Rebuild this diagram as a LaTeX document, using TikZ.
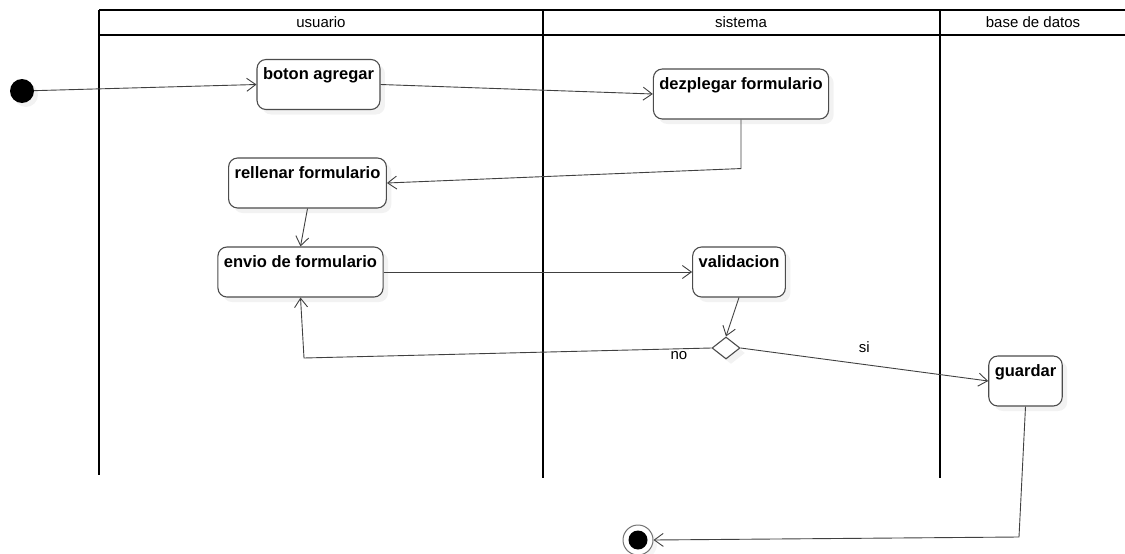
\documentclass[tikz,border=0pt]{standalone}
\usepackage{fontspec}
\setmainfont{Liberation Sans}
\usetikzlibrary{arrows.meta,positioning,shapes.geometric,shadows}

\begin{document}
\begin{tikzpicture}[
  x=1pt,y=-1pt,
  act/.style={draw=black!70,line width=1.1pt,rounded corners=9pt,fill=white,
    inner xsep=6pt,inner ysep=7pt,text height=13pt,text depth=23pt,
    font=\fontsize{16.5}{18}\selectfont\bfseries,
    drop shadow={shadow xshift=5pt,shadow yshift=-5pt,fill=black!10}},
  flow/.style={-{Straight Barb[length=9pt,width=13pt]},draw=black!75,line width=0.9pt},
  lane/.style={line width=2pt},
  lanelabel/.style={font=\fontsize{15}{17}\selectfont},
  guard/.style={font=\fontsize{15}{17}\selectfont,inner sep=2pt},
  startst/.style={circle,fill=black,minimum size=24pt,inner sep=0pt,
    drop shadow={shadow xshift=4pt,shadow yshift=-4pt,fill=black!10}},
  endst/.style={circle,draw=black!55,line width=1pt,fill=white,minimum size=30pt,inner sep=0pt,
    drop shadow={shadow xshift=4pt,shadow yshift=-4pt,fill=black!8},
    path picture={\fill[black] (path picture bounding box.center) circle (9.5pt);}},
  decision/.style={diamond,draw=black!70,line width=1.1pt,fill=white,minimum width=28pt,minimum height=22pt,inner sep=0pt,
    drop shadow={shadow xshift=5pt,shadow yshift=-5pt,fill=black!10}}
]
\useasboundingbox (0,0) rectangle (1125,554);

% swimlanes
\draw[lane] (99,10) -- (1125,10);
\draw[lane] (99,35) -- (1125,35);
\foreach \x/\y in {99/475,543/478,940/478}
  \draw[lane] (\x,10) -- (\x,\y);

\node[lanelabel] (usuario) at (321,22) {usuario};
\node[lanelabel] (sistema) at (741,22) {sistema};
\node[lanelabel] (basedatos) at (1033,22) {base de datos};

% actions
\node[startst] (inicio) at (22,91) {};
\node[act] (boton) at (318.5,84.5) {boton agregar};
\node[act] (dezplegar) at (741,94) {dezplegar formulario};
\node[act] (rellenar) at (307.5,183) {rellenar formulario};
\node[act] (envio) at (300.5,272) {envio de formulario};
\node[act] (validacion) at (739,272) {validacion};
\node[decision] (decision) at (726,348) {};
\node[act] (guardar) at (1025.5,381) {guardar};
\node[endst] (fin) at (638,540) {};

\coordinate (noturn) at (304,358);
\coordinate (saveturn) at (1019,537);

% flows
\draw[flow] (inicio) -- (boton.west);
\draw[flow] (boton.east) -- (dezplegar.west);
\draw[flow] (dezplegar.south) -- ++(0,49) -- (rellenar.east);
\draw[flow] (rellenar.south) -- (envio.north);
\draw[flow] (envio.east) -- (validacion.west);
\draw[flow] (validacion.south) -- (decision.north);
\draw[flow] (decision.west) -- node[guard,pos=0.08,below] {no} (noturn) -- (envio.south);
\draw[flow] (decision.east) -- node[guard,pos=0.5,above=9pt] {si} (guardar.west);
\draw[flow] (guardar.south) -- (saveturn) -- (fin.east);
\end{tikzpicture}
\end{document}
